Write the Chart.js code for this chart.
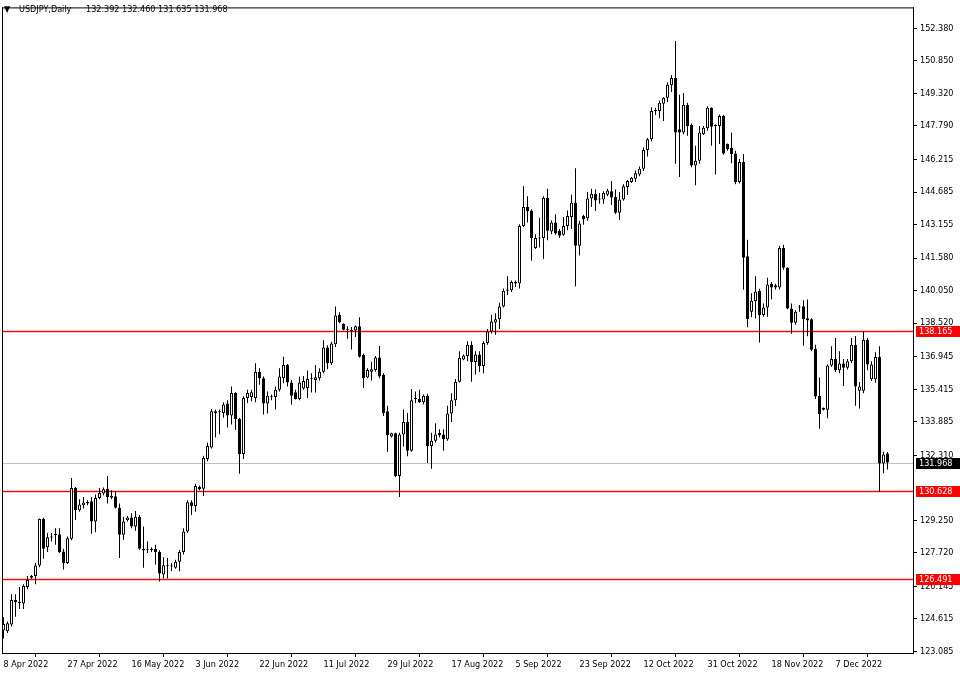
<!DOCTYPE html>
<html>
<head>
<meta charset="utf-8">
<script src="https://cdn.jsdelivr.net/npm/chart.js@4.4.1/dist/chart.umd.min.js"></script>
<style>
  html, body { margin: 0; padding: 0; background: #fff; }
</style>
</head>
<body>
<canvas id="chart" width="960" height="675"></canvas>
<script>
// USDJPY daily bars, 8 Apr 2022 .. 22 Dec 2022 (broker with Sunday bars)
const opens = [
  124.07,124.04,124.35,125.50,125.41,125.34,126.12,126.63,126.63,127.13,
  129.31,127.98,128.45,128.57,128.60,127.79,127.25,128.38,130.77,129.73,
  129.96,130.12,130.15,129.19,130.30,130.51,130.74,130.40,130.38,129.84,
  128.57,129.25,129.38,128.96,129.42,127.92,127.85,127.87,127.90,127.76,
  126.71,127.10,127.09,127.02,127.30,127.76,128.72,130.10,129.93,130.82,
  130.74,132.13,132.68,134.38,134.33,134.30,134.74,134.18,135.24,134.02,
  132.37,135.00,135.05,135.00,136.24,135.93,134.74,135.05,135.05,135.39,
  135.93,136.55,135.73,135.27,134.96,135.45,135.47,135.88,135.85,135.93,
  136.24,137.37,136.63,137.53,138.92,138.49,138.22,138.15,138.18,138.37,
  137.02,135.96,136.24,136.32,136.91,136.09,134.38,133.19,133.34,131.33,
  133.29,133.87,132.52,134.95,134.96,134.80,135.11,132.75,132.99,133.37,
  133.29,133.06,134.27,134.89,135.76,136.81,136.97,137.51,136.69,137.05,
  136.50,137.59,138.13,138.55,138.70,139.30,140.10,140.07,140.45,140.38,
  143.09,143.98,143.82,142.05,142.50,142.52,144.41,142.83,143.25,142.86,
  142.67,143.09,143.51,144.18,142.16,143.56,143.45,144.38,144.60,144.33,
  144.33,144.56,144.72,144.46,143.71,144.33,144.92,145.16,145.31,145.51,
  145.78,146.66,147.17,148.50,148.49,148.83,149.11,149.70,150.04,147.63,
  147.48,148.77,147.84,145.93,146.16,147.40,147.68,148.64,147.79,147.79,
  148.26,146.94,146.75,146.50,145.16,146.09,141.67,139.05,139.55,140.03,
  138.90,139.26,140.37,140.30,140.19,142.05,141.12,139.21,138.54,139.26,
  139.32,138.75,138.70,137.30,135.10,134.53,134.45,136.53,136.84,136.31,
  136.62,136.42,136.73,137.51,135.34,135.34,137.74,135.88,135.88,136.93,
  131.92,132.392
];
const highs = [
  124.69,124.50,125.78,125.78,126.12,126.24,126.63,126.68,127.25,129.34,
  129.37,128.65,128.65,128.88,128.88,127.92,128.49,131.24,130.82,130.24,
  130.35,130.20,130.35,130.46,130.77,130.79,131.33,130.66,130.62,130.04,
  129.42,129.45,129.58,129.69,129.50,128.96,128.26,127.98,128.10,127.85,
  127.51,127.48,127.25,127.40,127.87,128.88,130.20,130.20,130.97,130.89,
  132.29,132.91,134.49,134.46,134.46,134.80,134.89,135.54,135.27,134.07,
  135.08,135.39,135.39,136.63,136.40,136.01,135.31,135.16,135.54,136.40,
  136.94,136.60,135.85,135.39,136.01,136.04,136.29,136.16,136.55,136.40,
  137.72,137.48,137.64,139.30,139.03,138.52,138.37,138.34,138.41,138.80,
  137.09,136.40,136.71,136.97,137.44,136.16,134.64,133.37,133.37,133.37,
  134.46,134.30,135.42,135.31,135.39,135.16,135.20,133.37,133.81,133.53,
  133.53,134.64,135.23,135.89,137.20,137.05,137.67,137.67,137.20,137.20,
  137.67,138.24,138.91,138.98,139.48,140.15,140.72,140.53,140.53,143.17,
  144.95,144.49,143.87,142.70,143.48,144.49,144.84,143.36,143.64,142.94,
  143.51,143.82,144.56,145.80,143.33,143.61,144.69,144.84,144.80,144.64,
  144.72,144.84,145.20,144.80,144.69,145.05,145.26,145.39,145.70,145.88,
  146.78,147.22,148.67,148.64,148.99,149.14,149.85,150.19,151.78,149.26,
  149.34,148.88,147.90,146.86,147.79,147.79,148.72,148.67,147.87,148.33,
  148.30,146.97,147.48,146.63,146.24,146.47,142.44,139.93,140.73,140.14,
  139.44,140.65,140.45,140.37,142.16,142.20,141.15,139.44,139.13,139.37,
  139.60,139.63,138.75,137.51,135.96,134.56,136.58,137.43,137.82,137.20,
  136.84,136.84,137.82,137.92,135.75,138.13,137.82,136.73,137.15,137.43,
  132.47,132.460
];
const lows = [
  123.69,123.95,124.26,124.72,125.08,125.08,126.01,126.50,126.24,127.05,
  127.45,127.76,128.26,128.10,127.72,126.94,127.20,128.32,129.27,129.65,
  129.81,129.96,128.62,128.69,130.24,130.43,130.04,130.24,129.81,127.48,
  128.34,129.20,128.88,128.76,127.87,127.02,127.72,127.76,127.17,126.37,
  126.52,126.52,126.86,126.98,126.86,127.64,128.65,129.50,129.65,130.66,
  130.40,132.03,132.63,133.14,133.30,134.07,133.61,133.76,133.50,131.44,
  132.13,134.77,134.85,134.80,135.62,134.23,134.27,134.89,134.46,135.31,
  135.70,135.54,134.69,134.93,134.89,135.39,135.00,135.26,135.26,135.82,
  136.16,136.35,136.55,137.40,138.52,138.18,137.79,137.28,137.87,136.91,
  135.47,135.93,135.82,136.24,135.93,134.15,132.47,133.14,131.28,130.35,
  132.72,132.26,132.47,134.77,134.77,134.69,131.95,131.67,132.91,133.14,
  132.52,132.99,133.87,134.62,135.73,136.78,136.73,135.76,136.11,136.22,
  136.16,137.51,138.02,137.98,138.24,139.26,139.84,139.99,140.22,140.15,
  143.04,143.25,141.46,142.00,142.08,141.54,142.42,142.70,142.67,142.52,
  142.63,142.89,142.94,140.25,141.70,143.14,143.33,143.98,143.79,144.13,
  144.13,144.49,144.07,143.65,143.37,144.27,144.54,145.11,145.16,145.42,
  145.67,146.35,147.06,148.30,148.15,148.02,148.92,149.39,146.01,145.39,
  147.40,147.33,145.85,145.00,146.01,147.37,147.56,146.86,145.51,146.94,
  146.44,146.63,146.04,145.05,145.08,140.09,138.33,138.80,138.75,137.61,
  138.82,138.82,139.63,140.10,140.10,141.03,139.17,138.02,138.44,139.06,
  137.46,137.90,137.20,134.95,133.55,134.41,134.05,136.47,136.22,136.16,
  135.57,136.34,136.65,134.64,134.51,135.23,136.31,135.80,135.72,130.58,
  131.46,131.635
];
const closes = [
  124.38,124.41,125.50,125.40,125.36,126.17,126.45,126.55,127.13,129.31,
  127.92,128.45,128.44,128.56,127.76,127.25,128.41,130.77,129.73,129.99,
  130.09,130.04,129.19,130.30,130.54,130.71,130.34,130.31,129.84,128.57,
  129.19,129.38,128.96,129.42,127.92,127.83,127.84,127.86,127.76,126.75,
  127.14,127.09,127.08,127.30,127.76,128.72,130.10,129.93,130.86,130.71,
  132.18,132.75,134.38,134.30,134.34,134.69,134.18,135.24,134.00,132.37,
  135.00,135.24,135.27,136.24,135.93,134.74,135.11,135.04,135.39,136.01,
  136.55,135.73,135.11,134.96,135.73,135.80,135.89,135.90,135.98,136.24,
  137.37,136.63,137.56,138.88,138.57,138.21,138.21,138.21,138.37,136.94,
  135.93,136.32,136.35,136.91,136.01,134.30,133.25,133.34,131.33,133.29,
  133.87,132.52,134.89,134.96,134.80,135.11,132.75,132.99,133.29,133.25,
  133.06,134.27,134.89,135.76,136.89,137.00,137.51,136.69,137.05,136.50,
  137.59,138.13,138.60,138.70,139.30,140.04,140.04,140.45,140.38,143.09,
  143.98,143.79,142.52,142.52,142.55,144.41,142.86,143.25,142.73,142.63,
  143.09,143.56,144.18,142.16,143.20,143.41,144.38,144.60,144.29,144.35,
  144.64,144.75,144.43,143.71,144.33,144.95,145.20,145.36,145.57,145.78,
  146.66,147.17,148.49,148.49,148.88,149.11,149.73,150.04,147.48,147.48,
  148.77,147.79,145.93,146.16,147.48,147.71,148.64,147.75,147.80,148.26,
  146.50,146.70,146.47,145.16,146.09,141.59,138.72,139.57,140.01,138.90,
  139.26,140.34,140.19,140.19,142.05,141.12,139.21,138.54,139.06,139.25,
  138.70,138.64,137.27,135.07,134.25,134.45,136.53,136.84,136.31,136.62,
  136.42,136.73,137.51,135.54,135.54,137.74,136.58,136.58,136.93,131.92,
  132.34,131.968
];

// one label every 16 bars
const xTickLabels = ['8 Apr 2022', '27 Apr 2022', '16 May 2022', '3 Jun 2022', '22 Jun 2022',
  '11 Jul 2022', '29 Jul 2022', '17 Aug 2022', '5 Sep 2022', '23 Sep 2022',
  '12 Oct 2022', '31 Oct 2022', '18 Nov 2022', '7 Dec 2022'];
// 130.780 is hidden behind the 130.628 level label in the terminal
const yTickLabels = ['152.380', '150.850', '149.320', '147.790', '146.215', '144.685', '143.155',
  '141.580', '140.050', '138.520', '136.945', '135.415', '133.885', '132.310',
  '129.250', '127.720', '126.145', '124.615', '123.085'];

const levels = [138.165, 130.628, 126.491];
const lastPrice = 131.968;
const titleText = 'USDJPY,Daily';
const titleValues = '132.392 132.460 131.635 131.968';

const FAMILY = '"DejaVu Sans Condensed", "Liberation Sans", sans-serif';
const FONT = '9px ' + FAMILY;

const mtPlugin = {
  id: 'mt4',
  beforeDatasetsDraw(chart) {
    const { ctx, chartArea: a, scales: { y } } = chart;
    ctx.save();
    const w = a.right - a.left;
    ctx.fillStyle = '#c0c0c0';
    ctx.fillRect(a.left, Math.round(y.getPixelForValue(lastPrice)), w, 1);
    levels.forEach(v => {
      const ly = Math.round(y.getPixelForValue(v));
      // soft edge so the thin line keeps its red tint
      ctx.fillStyle = 'rgba(255,0,0,0.2)';
      ctx.fillRect(a.left, ly - 1, w, 3);
      ctx.fillStyle = '#ff0000';
      ctx.fillRect(a.left, ly, w, 1);
    });
    ctx.restore();
  },
  afterDraw(chart) {
    const { ctx, chartArea: a, scales: { y } } = chart;
    ctx.save();
    // frame
    ctx.fillStyle = '#000';
    ctx.fillRect(a.left - 1, a.top - 1, a.right - a.left + 2, 1);
    ctx.fillRect(a.left - 1, a.bottom, a.right - a.left + 2, 1);
    ctx.fillRect(a.left - 1, a.top - 1, 1, a.bottom - a.top + 2);
    ctx.fillRect(a.right, a.top - 1, 1, a.bottom - a.top + 2);

    // price labels on the right scale
    ctx.font = FONT;
    ctx.textBaseline = 'middle';
    ctx.textAlign = 'left';
    const box = (v, bg) => {
      const by = Math.round(y.getPixelForValue(v));
      ctx.fillStyle = bg;
      ctx.fillRect(a.right + 3, by - 5, 44, 11);
      ctx.fillStyle = '#fff';
      ctx.fillText(v.toFixed(3), a.right + 6, by + 0.5);
    };
    levels.forEach(v => box(v, '#ff0000'));
    box(lastPrice, '#000');

    // title
    ctx.fillStyle = '#000';
    ctx.fillText('\u25BC', a.left + 1, 10);
    ctx.fillText(titleText, a.left + 16, 10);
    ctx.fillText(titleValues, a.left + 83, 10);
    ctx.restore();
  }
};

Chart.defaults.font.family = FAMILY;
Chart.defaults.font.size = 9;
Chart.defaults.color = '#000';

new Chart(document.getElementById('chart'), {
  type: 'bar',
  data: {
    datasets: [
      {
        // bodies
        data: opens.map((o, i) => ({ x: i, y: [o, closes[i]] })),
        backgroundColor: opens.map((o, i) => closes[i] >= o ? '#fff' : '#000'),
        borderColor: '#000',
        borderWidth: 1,
        borderSkipped: false,
        barThickness: 3,
        minBarLength: 1,
        inflateAmount: 0,
        grouped: false,
        order: 0
      },
      {
        // wicks
        data: highs.map((h, i) => ({ x: i, y: [lows[i], h] })),
        backgroundColor: '#000',
        borderWidth: 0,
        barThickness: 1,
        inflateAmount: 0,
        grouped: false,
        order: 1
      }
    ]
  },
  options: {
    responsive: false,
    animation: false,
    events: [],
    layout: { padding: { left: 3, top: 3, right: 0, bottom: 0 } },
    plugins: { legend: { display: false }, tooltip: { enabled: false }, title: { display: false } },
    scales: {
      x: {
        type: 'linear',
        min: -0.125,
        max: 227.375,
        offset: false,
        grid: { display: true, drawOnChartArea: false, drawTicks: true, tickLength: 4, color: '#000' },
        border: { display: false },
        afterBuildTicks: s => { s.ticks = xTickLabels.map((_, k) => ({ value: k * 16 })); },
        afterFit: s => { s.height = 22; },
        ticks: {
          autoSkip: false,
          maxRotation: 0,
          align: 'start',
          padding: 2,
          callback: v => xTickLabels[Math.round(v / 16)]
        }
      },
      y: {
        position: 'right',
        min: 123.014,
        max: 153.316,
        grid: { display: true, drawOnChartArea: false, drawTicks: true, tickLength: 4, color: '#000' },
        border: { display: false },
        afterBuildTicks: s => { s.ticks = yTickLabels.map(t => ({ value: parseFloat(t) })); },
        afterFit: s => { s.width = 47; },
        ticks: {
          autoSkip: false,
          padding: 3,
          callback: (v, i) => yTickLabels[i]
        }
      }
    }
  },
  plugins: [mtPlugin]
});
</script>
</body>
</html>
